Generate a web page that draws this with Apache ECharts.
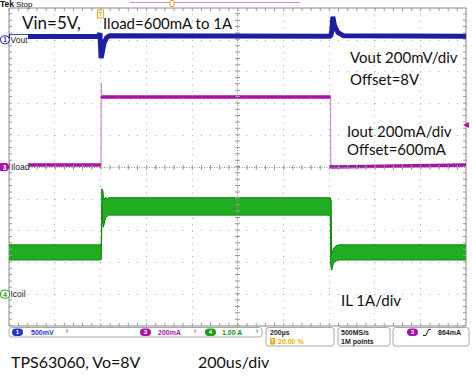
<!DOCTYPE html>
<html><head><meta charset="utf-8">
<script src="https://cdn.jsdelivr.net/npm/echarts@6/dist/echarts.min.js"></script>
<style>html,body{margin:0;padding:0;background:#fff}#c{width:472px;height:378px}</style>
</head><body><div id="c"></div>
<script>
// ---- Scope settings ----
const timePerDiv = 200;            // us/div, 10 divisions
const timeMax = 2000;
const triggerTime = 400;           // 20 % trigger position
const voutOffset = 8000;           // mV at ch1 marker, 200 mV/div
const voutPerDiv = 200;
const voutMarkerDiv = 4;
const ioOffset = 600;              // mA at ch3 marker, 200 mA/div
const ioPerDiv = 200;
const ioMarkerDiv = 0;
const ilPerDiv = 1;                // A/div, ch4 marker = 0 A
const ilMarkerDiv = -4;
const trigLevel = 864;             // mA on ch3

// ---- Ch1: Vout (mV) ----
const voutT  = [0, 392, 398, 403, 408, 416, 428, 440, 1408, 1413, 1417, 1425, 1440, 1465, 2000];
const voutMv = [8020, 8020, 8042, 7885, 7920, 7980, 8015, 8025, 8022, 8060, 8145, 8085, 8045, 8025, 8022];

// ---- Ch3: Iload (mA) ----
const ioT  = [0, 403, 404, 405, 407, 1407, 1408, 1409, 2000];
const ioMa = [613, 613, 1130, 1045, 1040, 1040, 613, 600, 613];
const ioEdgeAfter = [1, 2, 5];     // segments that are fast edges (drawn thin)

// ---- Ch4: inductor current envelope (A) ----
const ilT    = [0, 402, 404, 407, 410, 413, 417, 422, 428, 436, 1406, 1409, 1412, 1416, 1422, 1432, 1445, 2000];
const ilLow  = [1.08, 1.08, 1.15, 2.75, 2.35, 2.11, 2.25, 2.40, 2.45, 2.49, 2.49, 0.90, 0.76, 0.90, 1.00, 1.05, 1.08, 1.08];
const ilHigh = [1.55, 1.55, 1.60, 3.31, 3.25, 3.05, 2.95, 3.05, 3.00, 3.03, 3.03, 2.95, 1.25, 1.35, 1.45, 1.52, 1.55, 1.55];

// ---- Texts ----
const noteTop1 = 'Vin=5V,';
const noteTop2 = 'Iload=600mA to 1A';
const noteVout = ['Vout 200mV/div', 'Offset=8V'];
const noteIout = ['Iout 200mA/div', 'Offset=600mA'];
const noteIL = 'IL 1A/div';
const noteBottom = ['TPS63060, Vo=8V', '200us/div'];
const chLabels = ['Vout', 'Iload', 'Icoil'];
const statusCh = ['500mV', '200mA', '1.00 A'];
const statusTime = ['200µs', '20.00 %'];
const statusAcq = ['500MS/s', '1M points'];
const statusTrig = '864mA';

// screen divisions from channel units
const vDiv = mv => (mv - voutOffset) / voutPerDiv + voutMarkerDiv;
const iDiv = ma => (ma - ioOffset) / ioPerDiv + ioMarkerDiv;
const aDiv = a => a / ilPerDiv + ilMarkerDiv;

const BLUE = '#1c1f9e', PURPLE = '#a812a8', GREEN = '#22ac22', DGREEN = '#168a16';
const gridColor = '#ababab';
const pair = (a, b) => a.map((v, i) => [v, b[i]]);

// thick Iload levels: break the line on the fast-edge segments
const ioLevels = [];
ioT.forEach((t, i) => {
  ioLevels.push([t, iDiv(ioMa[i])]);
  if (ioEdgeAfter.includes(i)) ioLevels.push([(t + ioT[i + 1]) / 2, '-']);
});

const chart = echarts.init(document.getElementById('c'), null, { renderer: 'svg', width: 472, height: 378 });

const edgeT = 1.5 * timeMax / 457;   // 1.5 px in time units
const edgeD = 1.5 * 10 / 318;        // 1.5 px in division units
const ml = (spec, style) => Object.assign(spec, { lineStyle: style });
const ilRows = ilT.map((t, i) => [t, aDiv(ilLow[i]), aDiv(ilHigh[i])]);

const option = {
  animation: false,
  backgroundColor: '#fff',
  grid: { left: 9, top: 8, width: 457, height: 318, containLabel: false, show: true,
          borderColor: '#8c8c8c', borderWidth: 1, backgroundColor: 'transparent' },
  xAxis: { type: 'value', min: 0, max: timeMax, interval: timePerDiv,
    axisLine: { show: false }, axisTick: { show: false }, axisLabel: { show: false },
    splitLine: { show: true, lineStyle: { color: gridColor, width: 1, type: [1, 5.36] } } },
  yAxis: { type: 'value', min: -5, max: 5, interval: 1,
    axisLine: { show: false }, axisTick: { show: false }, axisLabel: { show: false },
    splitLine: { show: true, lineStyle: { color: gridColor, width: 1, type: [1, 8.14] } } },
  series: [
    { name: 'IL band', type: 'custom', data: ilRows, z: 3, clip: true, silent: true,
      encode: { x: 0, y: [1, 2] },
      renderItem: (params, api) => {
        const i = params.dataIndex;
        if (i >= ilRows.length - 1) return null;
        const a = ilRows[i], b = ilRows[i + 1];
        const pts = [api.coord([a[0], a[1]]), api.coord([b[0], b[1]]), api.coord([b[0], b[2]]), api.coord([a[0], a[2]])];
        return { type: 'polygon', shape: { points: pts }, style: { fill: GREEN, stroke: GREEN, lineWidth: 0.8 } };
      },
      markLine: { silent: true, symbol: 'none', label: { show: false }, animation: false,
        data: [
          ml({ xAxis: timeMax / 2 }, { color: '#9a9a9a', width: 1, type: [1, 1.5] }),
          ml({ yAxis: 0 }, { color: '#9a9a9a', width: 1, type: [1, 1.5] }),
          ml({ xAxis: timeMax / 2 }, { color: '#9a9a9a', width: 5, type: [1, 5.36] }),
          ml({ yAxis: 0 }, { color: '#9a9a9a', width: 5, type: [1, 8.14] }),
          ml({ xAxis: edgeT }, { color: '#9a9a9a', width: 3, type: [1, 5.36] }),
          ml({ xAxis: timeMax - edgeT }, { color: '#9a9a9a', width: 3, type: [1, 5.36] }),
          ml({ yAxis: 5 - edgeD }, { color: '#9a9a9a', width: 3, type: [1, 8.14] }),
          ml({ yAxis: -5 + edgeD }, { color: '#9a9a9a', width: 3, type: [1, 8.14] })
        ] } },
    { name: 'IL low', type: 'line', data: pair(ilT, ilLow.map(aDiv)), showSymbol: false, symbol: 'none',
      lineStyle: { color: DGREEN, width: 1 }, z: 3 },
    { name: 'IL high', type: 'line', data: pair(ilT, ilHigh.map(aDiv)), showSymbol: false, symbol: 'none',
      lineStyle: { color: DGREEN, width: 1 }, z: 3 },
    { name: 'Iload edges', type: 'line',
      data: pair(ioT, ioMa.map(iDiv)), showSymbol: false, symbol: 'none',
      lineStyle: { color: '#cf8fcf', width: 1.2 }, z: 4 },
    { name: 'Iload', type: 'line', data: ioLevels, connectNulls: false, showSymbol: false, symbol: 'none',
      lineStyle: { color: PURPLE, width: 3.5 }, z: 4,
      markPoint: { symbol: 'triangle', symbolSize: [6, 6], symbolRotate: 90, silent: true,
        itemStyle: { color: PURPLE }, label: { show: false },
        data: [{ coord: [timeMax, iDiv(trigLevel)] }] } },
    { name: 'Vout', type: 'line',
      data: pair(voutT, voutMv.map(vDiv)), showSymbol: false, symbol: 'none',
      lineStyle: { color: BLUE, width: 5 }, z: 5,
      markPoint: { symbol: 'rect', symbolSize: [6, 8], symbolOffset: [0, 6], silent: true,
        itemStyle: { color: '#fff', borderColor: '#e3a020', borderWidth: 1 },
        label: { show: true, formatter: 'T', fontSize: 6, color: '#e3a020', fontWeight: 'bold' },
        data: [{ coord: [triggerTime, 5] }] } }
  ]
};
chart.setOption(option);

// channel marker positions from the axis
const yCh1 = chart.convertToPixel({ yAxisIndex: 0 }, vDiv(voutOffset));
const yCh3 = chart.convertToPixel({ yAxisIndex: 0 }, iDiv(ioOffset));
const yCh4 = chart.convertToPixel({ yAxisIndex: 0 }, aDiv(0));

const F = 'Lato, "Open Sans", sans-serif';
const SF = '"Liberation Sans", Arial, sans-serif';
const Z = 100;
const txt = (x, y, text, size) => ({ type: 'text', x, y, silent: true, z: Z,
  style: { text, fontSize: size, fontFamily: F, fill: '#111', align: 'left', verticalAlign: 'middle' } });
const stxt = (x, y, text, fill, extra) => ({ type: 'text', x, y, silent: true, z: Z + 1,
  style: Object.assign({ text, fontSize: 7, fontWeight: 'bold', fontFamily: SF, fill, align: 'left', verticalAlign: 'middle' }, extra || {}) });
const pill = (x, y, n, fill) => [
  { type: 'rect', silent: true, z: Z, shape: { x, y, width: 11, height: 7.5, r: 3.75 }, style: { fill } },
  stxt(x + 5.5, y + 3.9, n, '#fff', { align: 'center', fontSize: 6 })
];
const box = (x, y, w, h) => ({ type: 'rect', silent: true, z: Z - 1, shape: { x, y, width: w, height: h, r: 2.5 },
  style: { fill: '#fff', stroke: '#a8a8a8', lineWidth: 1 } });
const white = (x, y, w, h) => ({ type: 'rect', silent: true, z: Z - 1, shape: { x, y, width: w, height: h }, style: { fill: '#fff' } });

const g = [];
// header
g.push(stxt(0, 4, 'Tek', '#111', { fontSize: 8.5 }));
g.push(stxt(16, 4, 'Stop', '#111', { fontSize: 8, fontWeight: 'normal' }));
g.push({ type: 'line', silent: true, shape: { x1: 130, y1: 2.5, x2: 300, y2: 2.5 }, style: { stroke: '#d88ad8', lineWidth: 1 } });
g.push({ type: 'rect', silent: true, shape: { x: 170, y: 0.5, width: 4, height: 6, r: 1 }, style: { fill: '#fff', stroke: '#e3a020', lineWidth: 1 } });

// channel markers with label panels
g.push(white(10, yCh1 - 5, 18, 10));
g.push({ type: 'rect', silent: true, z: Z, shape: { x: 0.5, y: yCh1 - 4, width: 9, height: 8, r: 4 }, style: { fill: '#fff', stroke: BLUE, lineWidth: 1 } });
g.push(stxt(5, yCh1, '1', BLUE, { align: 'center', fontSize: 6.5 }));
g.push(stxt(10.5, yCh1, chLabels[0], '#222', { fontSize: 8.5, fontWeight: 'normal' }));
g.push(white(10, yCh3 - 5, 19, 10));
g.push({ type: 'polygon', silent: true, z: Z, shape: { points: [[0, yCh3 - 4], [7, yCh3 - 4], [10, yCh3], [7, yCh3 + 4], [0, yCh3 + 4]] }, style: { fill: PURPLE } });
g.push(stxt(4.5, yCh3, '3', '#fff', { align: 'center', fontSize: 6.5 }));
g.push(stxt(11, yCh3, chLabels[1], '#222', { fontSize: 8.5, fontWeight: 'normal' }));
g.push(white(10, yCh4 - 5, 17, 10));
g.push({ type: 'rect', silent: true, z: Z, shape: { x: 0.5, y: yCh4 - 4, width: 9, height: 8, r: 3 }, style: { fill: '#fff', stroke: '#1c9c1c', lineWidth: 1 } });
g.push(stxt(5, yCh4, '4', '#1c9c1c', { align: 'center', fontSize: 6.5 }));
g.push(stxt(10.5, yCh4, chLabels[2], '#222', { fontSize: 8.5, fontWeight: 'normal' }));

// annotations (y = cap-height centre)
g.push(txt(22, 22.5, noteTop1, 17));
g.push(txt(103, 22.5, noteTop2, 15));
g.push(txt(350, 56.5, noteVout[0], 15));
g.push(txt(350, 79, noteVout[1], 15));
g.push(txt(347, 130.5, noteIout[0], 15));
g.push(txt(347, 149, noteIout[1], 15));
g.push(txt(341, 299.5, noteIL, 15));
g.push(txt(11, 361, noteBottom[0], 16));
g.push(txt(198, 361, noteBottom[1], 16));

// status bar
g.push(box(9, 327.5, 253, 9.5));
g.push(...pill(12, 328.5, '1', '#2233cc'));
g.push(stxt(31, 332.3, statusCh[0], '#2233cc'));
g.push(stxt(66, 332, 'ᵇ', '#7788dd', { fontSize: 6 }));
g.push(...pill(140, 328.5, '3', PURPLE));
g.push(stxt(158, 332.3, statusCh[1], PURPLE));
g.push(stxt(194, 332, 'ᵇ', '#c070c0', { fontSize: 6 }));
g.push(...pill(205, 328.5, '4', '#1c9c1c'));
g.push(stxt(222, 332.3, statusCh[2], '#129012'));
g.push(stxt(256, 332, 'ᵇ', '#60b060', { fontSize: 6 }));

g.push(box(266, 327.5, 68, 18.5));
g.push(stxt(270, 332.3, statusTime[0], '#222'));
g.push({ type: 'rect', silent: true, z: Z, shape: { x: 270, y: 338, width: 5, height: 6.5, r: 1 }, style: { fill: '#f0a000' } });
g.push(stxt(272.5, 341.3, 'T', '#fff', { align: 'center', fontSize: 5.5 }));
g.push(stxt(278, 341.3, statusTime[1], '#e8b400'));

g.push(box(338, 327.5, 52, 18.5));
g.push(stxt(341, 332.3, statusAcq[0], '#222'));
g.push(stxt(341, 341.3, statusAcq[1], '#222'));

g.push(box(393, 327.5, 76, 18.5));
g.push(...pill(407, 328.5, '3', PURPLE));
g.push({ type: 'polyline', silent: true, z: Z, shape: { points: [[423, 335.5], [426, 335.5], [428.5, 329.5], [431, 329.5]] }, style: { stroke: '#222', lineWidth: 1, fill: null } });
g.push(stxt(438, 332.3, statusTrig, '#222'));

chart.setOption({ graphic: { elements: g } });
</script>
</body></html>
